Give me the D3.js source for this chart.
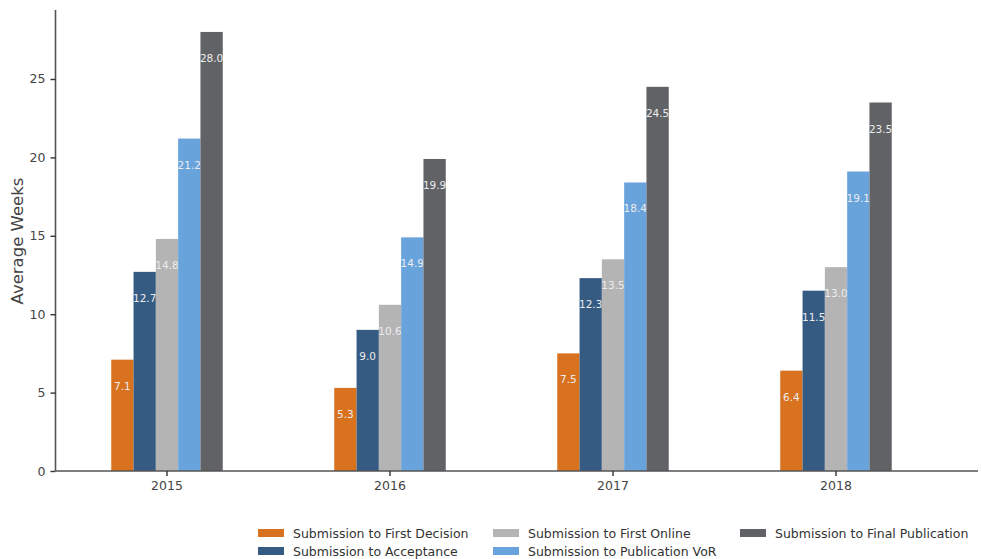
<!DOCTYPE html>
<html><head><meta charset="utf-8">
<script src="https://cdn.jsdelivr.net/npm/d3@7"></script>
<style>body{margin:0;background:#fff;font-family:"DejaVu Sans",sans-serif;}</style>
</head><body>
<svg id="c" width="981" height="559"></svg>
<script>
const years = ["2015","2016","2017","2018"];
const seriesNames = ["Submission to First Decision","Submission to Acceptance","Submission to First Online","Submission to Publication VoR","Submission to Final Publication"];
const firstDecision = [7.1, 5.3, 7.5, 6.4];
const acceptance = [12.7, 9.0, 12.3, 11.5];
const firstOnline = [14.8, 10.6, 13.5, 13.0];
const publicationVoR = [21.2, 14.9, 18.4, 19.1];
const finalPublication = [28.0, 19.9, 24.5, 23.5];
const colors = ["#d8721f","#365b83","#b4b4b5","#69a3dc","#616265"];
const yTicks = [0,5,10,15,20,25];

(function(){
const seriesVals = [firstDecision, acceptance, firstOnline, publicationVoR, finalPublication];
const svg = d3.select("#c");
const mLeft = 55.5, mBottom = 471, mTop = 10, mRight = 978;
const x0 = d3.scaleBand().domain(years).range([mLeft, mLeft + 4*223]).paddingInner(0).paddingOuter(0);
const x1 = d3.scaleBand().domain(d3.range(5)).range([x0.bandwidth()*0.25, x0.bandwidth()*0.75]);
const y = d3.scaleLinear().domain([0, 29.4]).range([mBottom, mTop]);

// bars
seriesVals.forEach((vals, si) => {
  const g = svg.append("g");
  g.selectAll("rect").data(vals).enter().append("rect")
    .attr("x", (d,i) => x0(years[i]) + x1(si))
    .attr("width", x1.bandwidth())
    .attr("y", d => y(d))
    .attr("height", d => y(0) - y(d))
    .attr("fill", colors[si]);
  g.selectAll("text").data(vals).enter().append("text")
    .attr("x", (d,i) => x0(years[i]) + x1(si) + x1.bandwidth()/2)
    .attr("y", d => y(d) + 30)
    .attr("text-anchor","middle")
    .attr("font-size","10.5px")
    .attr("fill","#ececec")
    .text(d => d.toFixed(1));
});

// y axis
const yAxis = svg.append("g").attr("transform",`translate(${mLeft},0)`)
  .call(d3.axisLeft(y).tickValues(yTicks).tickSize(5).tickPadding(5).tickFormat(d3.format("d")));
yAxis.select(".domain").attr("d", `M0,${mTop}V${mBottom}`).attr("stroke","#555").attr("stroke-width",1.6);
yAxis.selectAll(".tick line").attr("stroke","#333").attr("stroke-width",1.4);
yAxis.selectAll(".tick text").attr("font-size","12.5px").attr("fill","#444").attr("font-family","DejaVu Sans");

// x axis
const xAxis = svg.append("g").attr("transform",`translate(0,${mBottom})`)
  .call(d3.axisBottom(x0).tickSize(5).tickPadding(5));
xAxis.select(".domain").attr("d", `M${mLeft},0H${mRight}`).attr("stroke","#555").attr("stroke-width",1.6);
xAxis.selectAll(".tick line").attr("stroke","#333").attr("stroke-width",1.4);
xAxis.selectAll(".tick text").attr("font-size","12.5px").attr("fill","#444").attr("font-family","DejaVu Sans");

// y label
svg.append("text").attr("transform","translate(23,241) rotate(-90)")
  .attr("text-anchor","middle").attr("font-size","16.5px").attr("fill","#444").text("Average Weeks");

// legend
const legPos = [[258,533],[258,551],[493,533],[493,551],[740,533]];
const leg = svg.append("g");
seriesNames.forEach((n,i) => {
  const [lx,ly] = legPos[i];
  leg.append("rect").attr("x",lx).attr("y",ly-4).attr("width",26).attr("height",8).attr("fill",colors[i]);
  leg.append("text").attr("x",lx+35).attr("y",ly+4.5).attr("font-size","12.5px").attr("fill","#333").text(n);
});
})();
</script>
</body></html>
